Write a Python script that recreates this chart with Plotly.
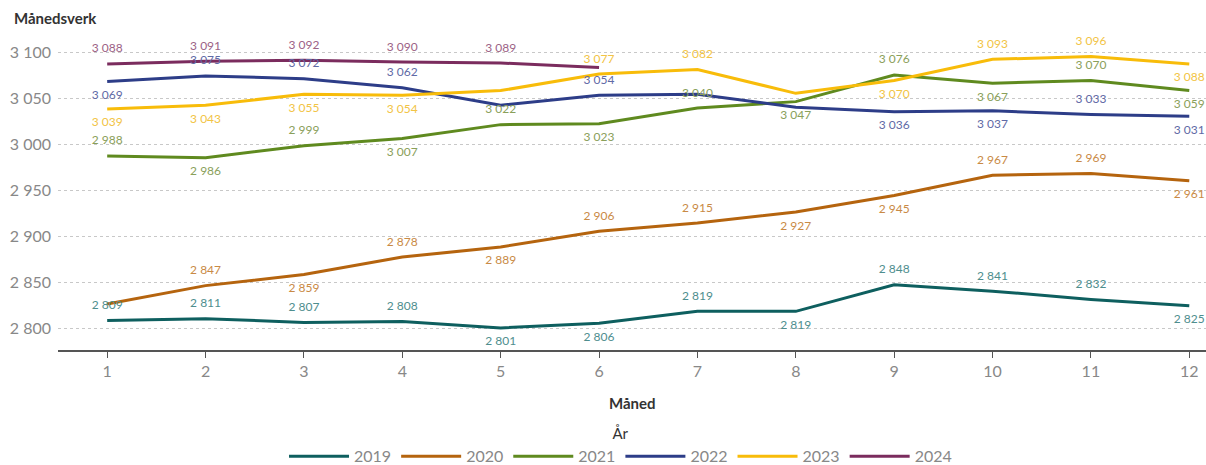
import plotly.graph_objects as go

months = [1, 2, 3, 4, 5, 6, 7, 8, 9, 10, 11, 12]
years = ["2019", "2020", "2021", "2022", "2023", "2024"]

v2019 = [2809, 2811, 2807, 2808, 2801, 2806, 2819, 2819, 2848, 2841, 2832, 2825]
v2020 = [2827, 2847, 2859, 2878, 2889, 2906, 2915, 2927, 2945, 2967, 2969, 2961]
v2021 = [2988, 2986, 2999, 3007, 3022, 3023, 3040, 3047, 3076, 3067, 3070, 3059]
v2022 = [3069, 3075, 3072, 3062, 3043, 3054, 3055, 3041, 3036, 3037, 3033, 3031]
v2023 = [3039, 3043, 3055, 3054, 3059, 3077, 3082, 3056, 3070, 3093, 3096, 3088]
v2024 = [3088, 3091, 3092, 3090, 3089, 3084]

values = [v2019, v2020, v2021, v2022, v2023, v2024]

# which labels are shown (1) / hidden (0) and where (t=top, b=bottom)
show = [
    [1] * 12,
    [0, 1, 1, 1, 1, 1, 1, 1, 1, 1, 1, 1],
    [1] * 12,
    [1, 1, 1, 1, 0, 1, 0, 0, 1, 1, 1, 1],
    [1, 1, 1, 1, 0, 1, 1, 0, 1, 1, 1, 1],
    [1, 1, 1, 1, 1, 0],
]
pos = [
    "ttttbbtbtttb",
    "ttbtbttbbttb",
    "tbtbtbtbtbtb",
    "btttttttbbtb",
    "bbbbbttbbttb",
    "tttttt",
]

colors = ["#0E5F5F", "#B5640E", "#5F8A1F", "#2D3D88", "#F8BC0A", "#7B2C5E"]
label_colors = ["#4E8E8E", "#C98A45", "#8AA05A", "#5F6AA6", "#F2C445", "#9C6286"]


def fmt(v):
    return f"{v:,}".replace(",", " ")


fig = go.Figure()
for yr, vals, c in zip(years, values, colors):
    fig.add_trace(
        go.Scatter(
            x=months[: len(vals)],
            y=vals,
            name=yr,
            mode="lines",
            line=dict(color=c, width=3),
        )
    )
for yr, vals, sh, ps, lc in zip(years, values, show, pos, label_colors):
    texts = [fmt(v) if s else "" for v, s in zip(vals, sh)]
    tpos = ["top center" if p == "t" else "bottom center" for p in ps]
    fig.add_trace(
        go.Scatter(
            x=months[: len(vals)],
            y=vals,
            name=yr,
            mode="markers+text",
            marker=dict(size=12, opacity=0, color=lc),
            text=texts,
            textposition=tpos,
            textfont=dict(color=lc, size=12, family="Lato"),
            cliponaxis=False,
            showlegend=False,
            hoverinfo="skip",
        )
    )

fig.update_layout(
    width=1206,
    height=465,
    margin=dict(l=58, r=0, t=40, b=115, autoexpand=False),
    plot_bgcolor="white",
    paper_bgcolor="white",
    separators=", ",
    font=dict(family="Lato", color="#888888"),
    showlegend=True,
    legend=dict(
        orientation="h",
        x=0.49,
        xanchor="center",
        y=-0.225,
        yanchor="top",
        title=dict(text="År", side="top center", font=dict(size=15, color="#333333", family="Lato")),
        font=dict(size=16, color="#888888", family="Lato"),
        itemwidth=60,
        tracegroupgap=0,
    ),
    xaxis=dict(
        range=[0.5, 12.17],
        tickmode="array",
        tickvals=months,
        ticks="outside",
        ticklen=6,
        tickcolor="#555555",
        showline=True,
        linecolor="#555555",
        linewidth=2,
        showgrid=False,
        zeroline=False,
        automargin=False,
        tickfont=dict(size=16, color="#888888"),
    ),
    yaxis=dict(
        range=[2777, 3114],
        tickvals=[2800, 2850, 2900, 2950, 3000, 3050, 3100],
        tickformat=",d",
        showgrid=True,
        gridcolor="#C8C8C8",
        griddash="dot",
        gridwidth=1,
        zeroline=False,
        showline=False,
        ticks="",
        automargin=False,
        ticklabelstandoff=6,
        tickfont=dict(size=16, color="#888888"),
    ),
    annotations=[
        dict(
            text="<b>Månedsverk</b>",
            xref="paper",
            yref="paper",
            x=-0.04,
            y=1.0,
            yshift=22,
            xanchor="left",
            yanchor="middle",
            showarrow=False,
            font=dict(size=15, color="#333333", family="Lato"),
        ),
        dict(
            text="<b>Måned</b>",
            xref="paper",
            yref="paper",
            x=0.5,
            y=0,
            yshift=-53,
            xanchor="center",
            yanchor="middle",
            showarrow=False,
            font=dict(size=15, color="#333333", family="Lato"),
        ),
    ],
)

fig.write_html(
    "out.html",
    config={"displayModeBar": False},
    post_script="document.body.style.margin='0';document.body.style.overflow='hidden';",
)
